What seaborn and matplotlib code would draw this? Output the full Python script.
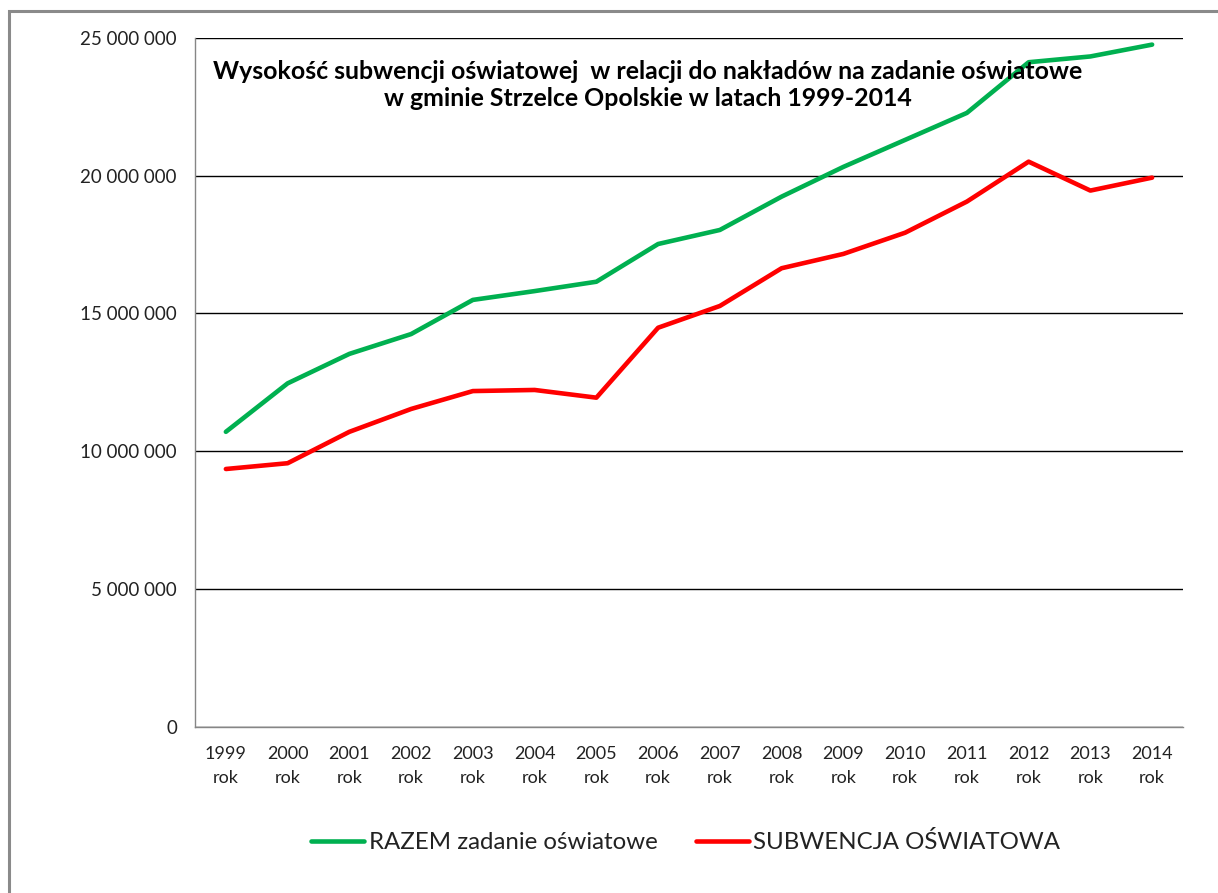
import pandas as pd
import seaborn as sns
import matplotlib
import matplotlib.pyplot as plt
from matplotlib.patches import Rectangle
from matplotlib.ticker import FuncFormatter

matplotlib.use('Agg')

years = ['1999', '2000', '2001', '2002', '2003', '2004', '2005', '2006',
         '2007', '2008', '2009', '2010', '2011', '2012', '2013', '2014']
razem = [10.70, 12.46, 13.53, 14.25, 15.49, 15.81, 16.15, 17.52,
         18.03, 19.24, 20.32, 21.30, 22.28, 24.12, 24.33, 24.76]
subwencja = [9.35, 9.56, 10.70, 11.53, 12.18, 12.22, 11.94, 14.48,
             15.27, 16.64, 17.16, 17.93, 19.06, 20.51, 19.46, 19.93]
series_names = ['RAZEM zadanie oświatowe', 'SUBWENCJA OŚWIATOWA']
colors = ['#00B050', '#FF0000']

df = pd.DataFrame({
    'rok': [f'{y}\nrok' for y in years] * 2,
    'wartosc': [v * 1e6 for v in razem + subwencja],
    'seria': [series_names[0]] * len(years) + [series_names[1]] * len(years),
})

sns.set_style('white')
plt.rcParams['font.family'] = ['Lato', 'DejaVu Sans']

fig = plt.figure(figsize=(12.18, 8.93), dpi=100)
ax = fig.add_axes([195 / 1218, 1 - 726.5 / 893, (1183 - 195) / 1218, (726.5 - 38) / 893])

sns.lineplot(data=df, x='rok', y='wartosc', hue='seria', palette=colors,
             linewidth=3.3, sort=False, ax=ax, legend=False)

ax.set_xlim(-0.5, len(years) - 0.5)
ax.set_ylim(0, 25e6)
ax.set_yticks([0, 5e6, 10e6, 15e6, 20e6, 25e6])
ax.yaxis.set_major_formatter(FuncFormatter(lambda v, p: f'{int(v):,}'.replace(',', ' ')))
ax.grid(axis='y', color='black', linewidth=1)
ax.set_axisbelow(True)
ax.set_xlabel('')
ax.set_ylabel('')

for s in ['top', 'right']:
    ax.spines[s].set_visible(False)
for s in ['left', 'bottom']:
    ax.spines[s].set_color('#868686')
    ax.spines[s].set_linewidth(1)

# category ticks sit between the labels, like in Excel
ax.set_xticks([i - 0.5 for i in range(len(years) + 1)], minor=True)
ax.tick_params(axis='x', which='major', length=0, labelsize=13, colors='#222222', pad=14)
ax.tick_params(axis='x', which='minor', length=6, color='#868686', direction='out')
ax.tick_params(axis='y', length=6, color='#868686', labelsize=13.5, labelcolor='#222222',
               direction='out', pad=7)
for lbl in ax.get_xticklabels():
    lbl.set_linespacing(1.6)

ax.text(0.458, 0.932, 'Wysokość subwencji oświatowej  w relacji do nakładów na zadanie oświatowe\n'
        'w gminie Strzelce Opolskie w latach 1999-2014',
        transform=ax.transAxes, ha='center', va='center', fontsize=17.9,
        fontweight='bold', linespacing=1.22, color='black')

handles = [plt.Line2D([], [], color=c, linewidth=3.3) for c in colors]
fig.legend(handles, series_names, loc='center', bbox_to_anchor=(0.563, 1 - 842 / 893),
           ncol=2, frameon=False, fontsize=17.3, handlelength=2.2, handletextpad=0.2,
           columnspacing=1.6, labelcolor='#222222')

# outer chart frame
fig.patches.append(Rectangle((9 / 1218, -0.05), 1.1, 1 - 11 / 893 + 0.05,
                             transform=fig.transFigure, fill=False,
                             edgecolor='#8a8a8a', linewidth=2.2))

plt.savefig('out.png', dpi=100)
